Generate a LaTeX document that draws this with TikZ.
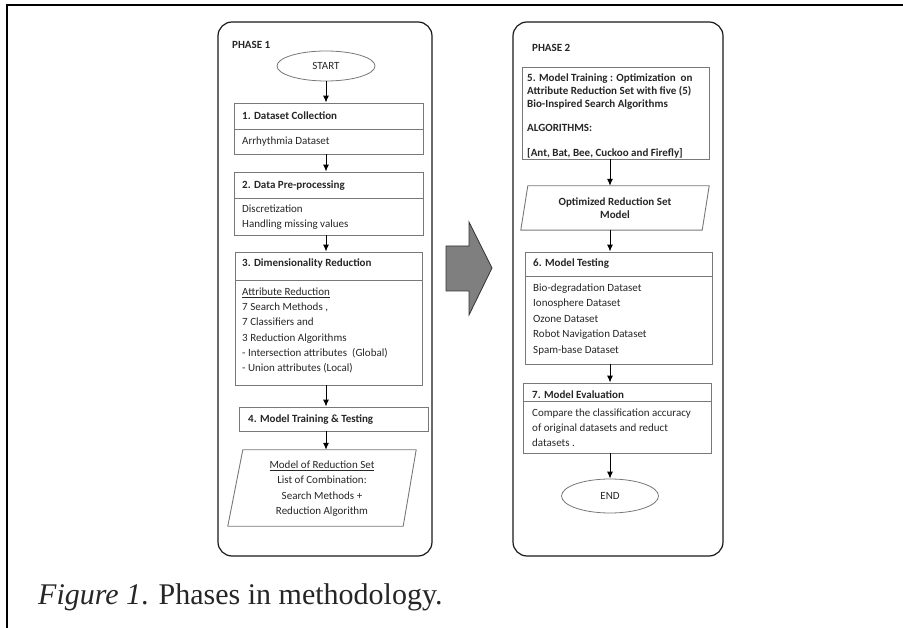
\documentclass[tikz,border=0pt]{standalone}
\usepackage{fontspec}
\setmainfont{Carlito}
\newfontfamily\capfont{Liberation Serif}
\usetikzlibrary{shapes.geometric, arrows.meta}

\definecolor{boxgray}{RGB}{120,120,120}
\definecolor{txtgray}{RGB}{38,38,38}
\definecolor{bigarrow}{RGB}{127,127,127}

\tikzset{
  phase/.style={draw=black!90, line width=1.2pt, rounded corners=14pt},
  box/.style={draw=boxgray, line width=0.9pt, inner sep=0pt},
  oval/.style={draw=boxgray, ellipse, line width=0.8pt, inner sep=0pt, text=txtgray, font=\fontsize{11}{13}\selectfont},
  txt/.style={inner sep=0pt, anchor=west, text height=7pt, text depth=0pt, text=txtgray, font=\fontsize{11}{13}\selectfont},
  hdr/.style={txt, font=\fontsize{11}{13}\selectfont\bfseries},
  arr/.style={-{Latex[length=7pt,width=6pt]}, line width=1pt}
}

\begin{document}
\begin{tikzpicture}[x=1pt, y=-1pt]
    \useasboundingbox (0,0) rectangle (903,628);

    % Page frame
    \draw[line width=1.6pt] (7,628) -- (7,5) -- (903,5);

    % Phase panels
    \draw[phase] (218,22) rectangle (432,556);
    \draw[phase] (513,22) rectangle (723,556);
    \node[hdr] (ph1) at (232,45) {PHASE 1};
    \node[hdr] (ph2) at (532,48) {PHASE 2};

    % Phase 1 boxes
    \node[oval, minimum width=98pt, minimum height=30pt] (start) at (326,66) {START};
    \node[box, minimum width=189pt, minimum height=51pt] (b1) at (328.5,128.5) {};
    \node[box, minimum width=189pt, minimum height=63pt] (b2) at (328.5,203.5) {};
    \node[box, minimum width=187pt, minimum height=133pt] (b3) at (328.5,318.5) {};
    \node[box, minimum width=189pt, minimum height=24pt] (b4) at (333.5,419) {};
    \node[inner sep=0pt, minimum width=188pt, minimum height=76pt] (p1) at (322,488) {};
    \draw[box] ([xshift=15pt]p1.north west) -- (p1.north east)
        -- ([xshift=-13pt]p1.south east) -- (p1.south west) -- cycle;

    % Dividers
    \draw[box] (b1.west |- 0,129) -- (b1.east |- 0,129);
    \draw[box] (b2.west |- 0,198) -- (b2.east |- 0,198);
    \draw[box] (b3.west |- 0,280) -- (b3.east |- 0,280);

    % Phase 1 texts
    \node[hdr] (t1) at (242,116) {1. Dataset Collection};
    \node[txt] (t1a) at (242,141) {Arrhythmia Dataset};
    \node[hdr] (t2) at (242,185) {2. Data Pre-processing};
    \foreach \t [count=\i from 0] in {Discretization, Handling missing values}
        \node[txt] (t2-\i) at (242,209+15.3*\i) {\t};
    \node[hdr] (t3) at (242,263) {3. Dimensionality Reduction};
    \foreach \t [count=\i from 0] in {\underline{Attribute Reduction}, {7 Search Methods ,},
        7 Classifiers and, 3 Reduction Algorithms, - Intersection attributes~~(Global),
        - Union attributes (Local)}
        \node[txt] (t3-\i) at (242,292+15.2*\i) {\t};
    \node[hdr] (t4) at (248,419) {4. Model Training \& Testing};
    \foreach \t [count=\i from 0] in {\underline{Model of Reduction Set}, List of Combination:,
        Search Methods +, Reduction Algorithm}
        \node[txt, anchor=center] (tp1-\i) at (322,465+15.3*\i) {\t};

    % Phase 1 arrows
    \draw[arr] (start.south) -- (start.south |- b1.north);
    \draw[arr] (start |- b1.south) -- (start |- b2.north);
    \draw[arr] (start |- b2.south) -- (start |- b3.north);
    \draw[arr] (start |- b3.south) -- (start |- b4.north);
    \draw[arr] (start |- b4.south) -- (start |- p1.north);

    % Transition arrow
    \draw[fill=bigarrow, draw=black!80, line width=0.8pt] (446,246) -- (469,246) -- (469,222)
        -- (492,268) -- (469,315) -- (469,291) -- (446,291) -- cycle;

    % Phase 2 boxes
    \node[box, minimum width=187pt, minimum height=92pt] (b5) at (615.5,113) {};
    \node[inner sep=0pt, minimum width=188pt, minimum height=44pt] (p2) at (615,208) {};
    \draw[box] ([xshift=7pt]p2.north west) -- (p2.north east)
        -- ([xshift=-7pt]p2.south east) -- (p2.south west) -- cycle;
    \node[box, minimum width=187pt, minimum height=112pt] (b6) at (618.5,308) {};
    \node[box, minimum width=188pt, minimum height=70pt] (b7) at (617,418) {};
    \node[oval, minimum width=97pt, minimum height=34pt] (endn) at (610,496) {END};

    % Dividers
    \draw[box] (b6.west |- 0,276) -- (b6.east |- 0,276);
    \draw[box] (b7.west |- 0,401) -- (b7.east |- 0,401);

    % Phase 2 texts
    \foreach \t [count=\i from 0] in {5. Model Training : Optimization~~on,
        Attribute Reduction Set with five (5), Bio-Inspired Search Algorithms}
        \node[hdr] (t5-\i) at (527,78+13*\i) {\t};
    \node[hdr] (t5a) at (527,128) {ALGORITHMS:};
    \node[hdr] (t5b) at (527,153) {[Ant, Bat, Bee, Cuckoo and Firefly]};
    \node[hdr, anchor=center] (tp2a) at (615,202) {Optimized Reduction Set};
    \node[hdr, anchor=center] (tp2b) at (615,215) {Model};
    \node[hdr] (t6) at (533,263) {6. Model Testing};
    \foreach \t [count=\i from 0] in {Bio-degradation Dataset, Ionosphere Dataset,
        Ozone Dataset, Robot Navigation Dataset, Spam-base Dataset}
        \node[txt] (t6-\i) at (533,288+15.5*\i) {\t};
    \node[hdr] (t7) at (532,395) {7. Model Evaluation};
    \foreach \t [count=\i from 0] in {Compare the classification accuracy,
        of original datasets and reduct, datasets .}
        \node[txt] (t7-\i) at (532,413+15*\i) {\t};

    % Phase 2 arrows
    \draw[arr] (endn |- b5.south) -- (endn |- p2.north);
    \draw[arr] (endn |- p2.south) -- (endn |- b6.north);
    \draw[arr] (endn |- b6.south) -- (endn |- b7.north);
    \draw[arr] (endn |- b7.south) -- (endn.north);

    % Caption
    \node[anchor=west, inner sep=0pt, text=black!85, font=\capfont\fontsize{30}{33}\selectfont]
        (cap) at (38,597) {\textit{Figure 1}. Phases in methodology.};
\end{tikzpicture}
\end{document}
